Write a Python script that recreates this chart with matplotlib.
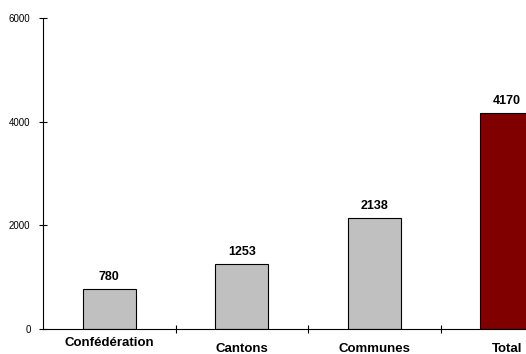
import matplotlib.pyplot as plt

categories = ['Confédération', 'Cantons', 'Communes', 'Total']
values = [780, 1253, 2138, 4170]
colors = ['#C0C0C0', '#C0C0C0', '#C0C0C0', '#800000']

plt.rcParams['font.family'] = ['Liberation Sans', 'DejaVu Sans']

fig = plt.figure(figsize=(5.26, 3.54), dpi=100)
# axis runs past the right edge, so the Total bar is cut off
ax = fig.add_axes([43 / 526, 25 / 354, 530 / 526, 311 / 354])

x = range(len(categories))
ax.bar(x, values, width=0.4, color=colors, edgecolor='black', linewidth=0.8)

for i, v in enumerate(values):
    ax.text(i, v + 110, str(v), ha='center', va='bottom', fontsize=9, fontweight='bold')

ax.set_xlim(-0.5, 3.5)
ax.set_ylim(0, 6000)
ax.set_yticks([0, 2000, 4000, 6000])
ax.tick_params(axis='y', direction='inout', length=6, width=0.8, labelsize=7, pad=6)

ax.set_xticks([0.5, 1.5, 2.5])
ax.set_xticklabels([])
ax.tick_params(axis='x', direction='inout', length=6, width=0.8)

# category names, the first one sits a little higher
offsets = [-10, -14.5, -14.5, -14.5]
for i, name in enumerate(categories):
    ax.annotate(name, (i, 0), xytext=(0, offsets[i]), textcoords='offset points',
                ha='center', va='center', fontsize=9.5, fontweight='bold')

ax.spines['top'].set_visible(False)
ax.spines['right'].set_visible(False)
ax.spines['left'].set_linewidth(0.8)
ax.spines['bottom'].set_linewidth(0.8)

fig.savefig('out.png', dpi=100)
